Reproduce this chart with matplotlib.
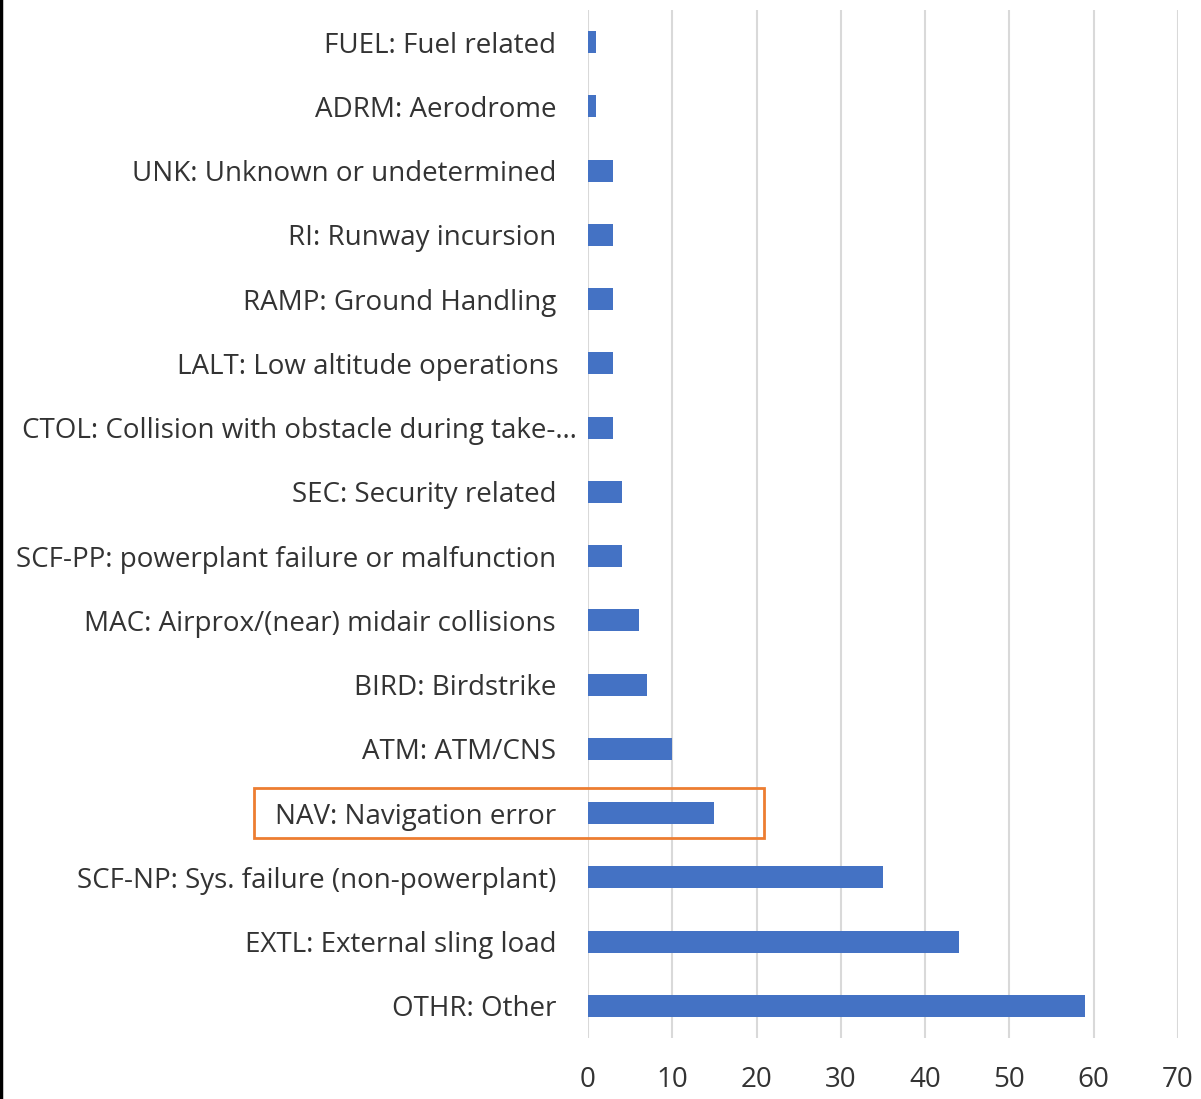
import matplotlib
matplotlib.use("Agg")
import matplotlib.pyplot as plt
from matplotlib.patches import Rectangle
from matplotlib.transforms import ScaledTranslation

categories = [
    "FUEL: Fuel related",
    "ADRM: Aerodrome",
    "UNK: Unknown or undetermined",
    "RI: Runway incursion",
    "RAMP: Ground Handling",
    "LALT: Low altitude operations",
    "CTOL: Collision with obstacle during take-\u2026",
    "SEC: Security related",
    "SCF-PP: powerplant failure or malfunction",
    "MAC: Airprox/(near) midair collisions",
    "BIRD: Birdstrike",
    "ATM: ATM/CNS",
    "NAV: Navigation error",
    "SCF-NP: Sys. failure (non-powerplant)",
    "EXTL: External sling load",
    "OTHR: Other",
]
values = [1, 1, 3, 3, 3, 3, 3, 4, 4, 6, 7, 10, 15, 35, 44, 59]
xticks = [0, 10, 20, 30, 40, 50, 60, 70]
highlight = "NAV: Navigation error"

plt.rcParams['font.family'] = ['Open Sans', 'DejaVu Sans']
text_color = "#333333"

fig = plt.figure(figsize=(12.01, 10.99), dpi=100)
ax = fig.add_axes([588/1201, 1 - 1038/1099, (1178-588)/1201, (1038-10)/1099])

ypos = list(range(len(categories)))
ax.barh(ypos, values, height=0.34, color="#4472C4", zorder=3)

ax.set_xlim(0, 70)
ax.set_ylim(len(categories) - 0.5, -0.5)
ax.set_xticks(xticks)
ax.set_xticklabels([str(t) for t in xticks])
ax.set_yticks(ypos)
ax.set_yticklabels(categories)
ax.xaxis.grid(True, color="#D9D9D9", linewidth=1.5, zorder=0)
for s in ax.spines.values():
    s.set_visible(False)
ax.tick_params(axis='both', length=0, labelsize=20, colors=text_color)
ax.tick_params(axis='y', pad=23)
ax.tick_params(axis='x', pad=20)

for lab in ax.get_yticklabels():
    if lab.get_text().startswith("CTOL"):
        lab.set_transform(lab.get_transform() + ScaledTranslation(21/100, 0, fig.dpi_scale_trans))
    if lab.get_text().startswith("LALT"):
        lab.set_transform(lab.get_transform() + ScaledTranslation(3/100, 0, fig.dpi_scale_trans))

# highlight box around NAV (x in data units: 1 unit = 8.43 px)
i = categories.index(highlight)
x0 = -(588 - 254) / 8.43
x1 = (764 - 588) / 8.43
rect = Rectangle((x0, i - 0.39), x1 - x0, 0.78, fill=False, edgecolor="#ED7D31",
                 linewidth=2, clip_on=False, zorder=5)
ax.add_patch(rect)

# left border line
fig.add_artist(plt.Line2D([0.001, 0.001], [0, 1], transform=fig.transFigure, color="black", linewidth=2.5))

fig.savefig("out.png", dpi=100, facecolor="white")
